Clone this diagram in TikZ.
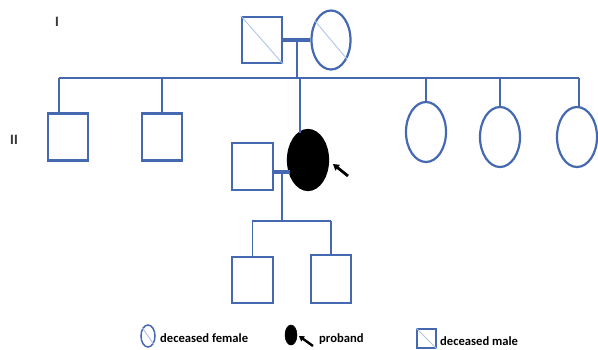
\documentclass[tikz,border=0pt]{standalone}
\usepackage{fontspec}
\setmainfont{Carlito}
\newfontfamily\legfont{Carlito}
\newfontfamily\genfont{Liberation Sans}
\usetikzlibrary{shapes.geometric,arrows.meta}
\definecolor{pblue}{HTML}{4569B0}
\definecolor{plight}{HTML}{AFC4E8}
\definecolor{pgray}{HTML}{3A3A3A}
\tikzset{
  male/.style={draw=pblue,line width=2.2pt,rectangle,inner sep=0pt,minimum width=40pt,minimum height=46pt},
  female/.style={draw=pblue,line width=2.2pt,ellipse,inner sep=0pt,minimum width=40pt,minimum height=60pt},
  link/.style={draw=pblue,line width=1.9pt},
  marriage/.style={draw=pblue,line width=4pt},
  diag/.style={draw=plight,line width=0.9pt},
  legtext/.style={font=\legfont\bfseries\fontsize{12.6}{14}\selectfont,anchor=west,inner sep=0pt,text=black},
  gen/.style={font=\genfont\bfseries\fontsize{13.5}{14}\selectfont,text=pgray,inner sep=0pt},
}
\begin{document}
\begin{tikzpicture}[x=1pt,y=-1pt]
\useasboundingbox (0,0) rectangle (598,349);
% generation labels
\node[gen] (gI) at (57,22) {I};
\node[gen] (gII) at (14,140) {II};
% generation I
\node[male] (father) at (262,40) {};
\node[female,minimum width=39pt,minimum height=59pt] (mother) at (331,40) {};
\draw[diag] (father.north west) -- (father.south east);
\draw[diag] (mother.130) -- (mother.-50);
\draw[marriage] (father.east) -- (mother.west);
\coordinate (m1) at (297,40);
\coordinate (sL) at (59,78);
\coordinate (sR) at (579,78);
\draw[link] (m1) -- (m1 |- sL);
\draw[link] (sL) -- (sR);
% generation II
\node[male,minimum height=47pt] (b1) at (68,137) {};
\node[male,minimum height=47pt] (b2) at (162,137) {};
\node[female,fill=black,draw=black] (proband) at (308,160) {};
\node[female] (s1) at (426,132) {};
\node[female] (s2) at (500,137) {};
\node[female] (s3) at (577,137) {};
\coordinate (b1t) at (59,113);
\draw[link] (b1t) -- (b1t |- sL);
\draw[link] (b2.north) -- (b2.north |- sL);
\draw[link] (s1.north) -- (s1.north |- sL);
\draw[link] (s2.north) -- (s2.north |- sL);
\coordinate (s3t) at (579,107);
\draw[link] (s3t) -- (s3t |- sL);
\coordinate (pt) at (300,133);
\draw[link] (pt) -- (pt |- sL);
\draw[-{Triangle[length=6pt,width=7pt]},line width=2.8pt] (348,176) coordinate (arA) -- (333,164) coordinate (arB);
% spouse
\node[male,minimum width=41pt,minimum height=47pt] (spouse) at (252.5,166.5) {};
\coordinate (m2a) at (273,172);
\coordinate (m2b) at (290,172);
\draw[marriage] (m2a) -- (m2b);
\coordinate (m2) at (282,172);
\coordinate (tL) at (252,221);
\coordinate (tR) at (331,221);
\draw[link] (m2) -- (m2 |- tL);
\draw[link] (tL) -- (tR);
% generation III
\node[male,minimum width=41pt,minimum height=46pt] (k1) at (252.5,280) {};
\node[male,minimum width=40pt,minimum height=48pt] (k2) at (331,279) {};
\draw[link] (k1.north) -- (k1.north |- tL);
\draw[link] (k2.north) -- (k2.north |- tL);
% legend
\node[female,line width=1.5pt,minimum width=14pt,minimum height=22pt] (lf) at (148,336) {};
\draw[diag,line width=1pt] (lf.125) -- (lf.-55);
\node[legtext] (lft) at (160,338) {deceased female};
\node[female,fill=black,draw=black,line width=0.5pt,minimum width=12pt,minimum height=20pt] (lp) at (291,335) {};
\draw[-{Triangle[length=5pt,width=6pt]},line width=2.4pt] (313,346) coordinate (laA) -- (299,336) coordinate (laB);
\node[legtext] (lpt) at (319,339) {proband};
\node[male,line width=1.5pt,minimum width=19pt,minimum height=19pt] (lm) at (426.5,338.5) {};
\draw[diag,line width=1pt] (lm.north west) -- (lm.south east);
\node[legtext] (lmt) at (440,341) {deceased male};
\end{tikzpicture}
\end{document}
